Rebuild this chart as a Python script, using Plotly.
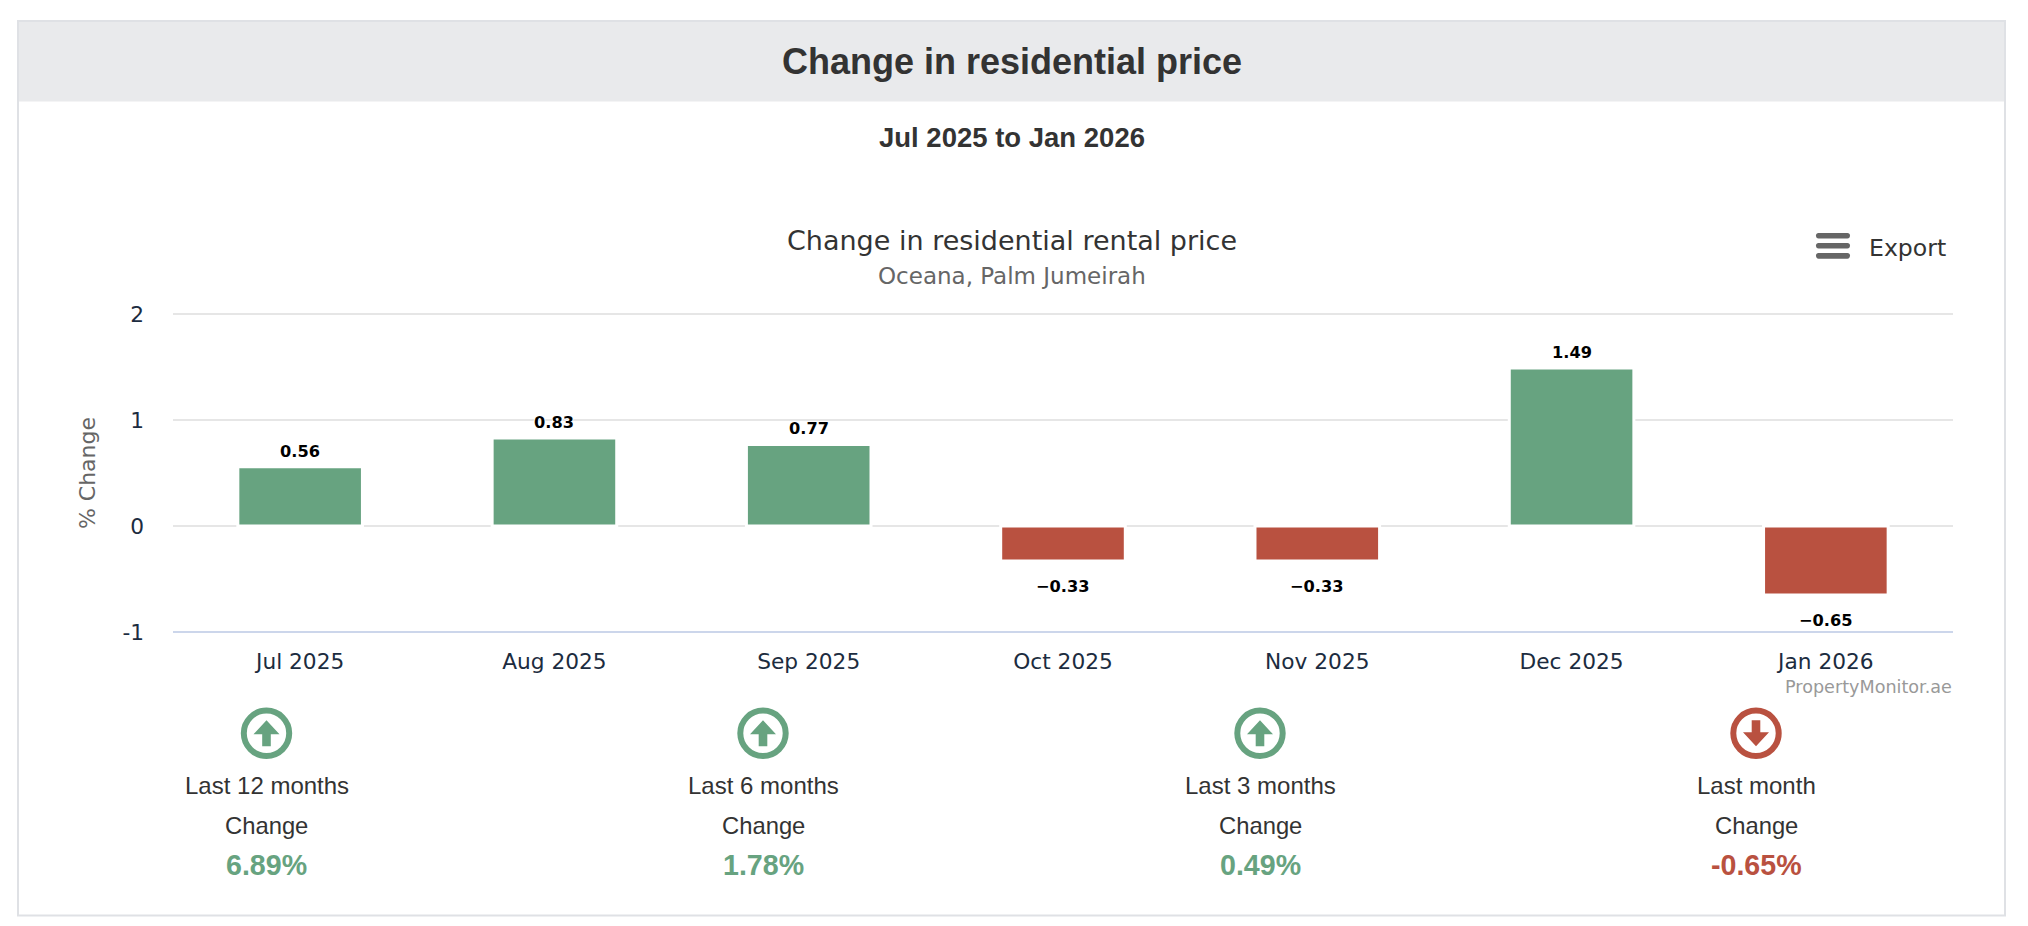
import plotly.graph_objects as go

months = ["Jul 2025", "Aug 2025", "Sep 2025", "Oct 2025", "Nov 2025", "Dec 2025", "Jan 2026"]
changes = [0.56, 0.83, 0.77, -0.33, -0.33, 1.49, -0.65]
periods = ["Last 12 months", "Last 6 months", "Last 3 months", "Last month"]
period_changes = [6.89, 1.78, 0.49, -0.65]
y_ticks = [-1, 0, 1, 2]
y_tick_text = ["-1", "0", "1", "2"]

GREEN = "#67a380"
RED = "#b95140"
W, H = 2028, 926
L, R, T, B = 173, 1953, 314, 632
MID = 1011.5
CHART_FONT = "DejaVu Sans"
HTML_FONT = "Liberation Sans"


def px(x):
    return (x - L) / (R - L)


def py(y):
    return (B - y) / (B - T)


def path(points):
    return "M" + " L".join(f"{px(x):.5f},{py(y):.5f}" for x, y in points) + " Z"


def rounded(x0, y0, x1, y1, r):
    p = lambda x, y: f"{px(x):.5f},{py(y):.5f}"
    return (f"M{p(x0 + r, y0)} L{p(x1 - r, y0)} Q{p(x1, y0)} {p(x1, y0 + r)} "
            f"Q{p(x1, y1)} {p(x1 - r, y1)} L{p(x0 + r, y1)} "
            f"Q{p(x0, y1)} {p(x0, y0 + r)} Q{p(x0, y0)} {p(x0 + r, y0)} Z")


def label(x, y, text, size, color, family=CHART_FONT, xanchor="center"):
    return dict(xref="paper", yref="paper", x=px(x), y=py(y), text=text, showarrow=False,
                xanchor=xanchor, yanchor="middle", borderpad=0,
                font=dict(family=family, size=size, color=color))


fig = go.Figure(go.Bar(
    x=months, y=changes,
    marker=dict(color=[GREEN if v >= 0 else RED for v in changes],
                line=dict(color="#ffffff", width=3)),
    width=0.49, hoverinfo="skip", showlegend=False,
))

shapes = [
    dict(type="rect", xref="paper", yref="paper", x0=px(18), x1=px(2005), y0=py(21), y1=py(915.5),
         line=dict(color="#dfe1e5", width=2), fillcolor="#ffffff", layer="below"),
    dict(type="rect", xref="paper", yref="paper", x0=px(19), x1=px(2004), y0=py(22), y1=py(101.5),
         line=dict(width=0), fillcolor="#e9eaec", layer="below"),
    dict(type="line", xref="paper", yref="paper", x0=0, x1=1, y0=1, y1=1,
         line=dict(color="#e6e6e6", width=2), layer="below"),
    dict(type="line", xref="paper", yref="paper", x0=0, x1=1, y0=0, y1=0,
         line=dict(color="#ccd6eb", width=2), layer="below"),
]
for (a, b) in [(233, 238.5), (243, 248.5), (253, 258.7)]:
    shapes.append(dict(type="path", xref="paper", yref="paper", path=rounded(1816, a, 1850, b, 2.6),
                       fillcolor="#666666", line=dict(width=0)))

annotations = [
    label(MID, 62, "<b>Change in residential price</b>", 36, "#333333", HTML_FONT),
    label(MID, 137, "<b>Jul 2025 to Jan 2026</b>", 27.5, "#333333", HTML_FONT),
    label(MID, 240.5, "Change in residential rental price", 27, "#333333"),
    label(MID, 276, "Oceana, Palm Jumeirah", 23, "#666666"),
    label(1868, 248, "Export", 23.6, "#333333", xanchor="left"),
    label(R, 687, "PropertyMonitor.ae", 17.6, "#999999", xanchor="right"),
]

OUTLINE = "1px 0 0 #fff, -1px 0 0 #fff, 0 1px 0 #fff, 0 -1px 0 #fff"
for m, v in zip(months, changes):
    annotations.append(dict(
        xref="x", yref="y", x=m, y=v, text="<b>" + f"{v:.2f}".replace("-", "\u2212") + "</b>",
        showarrow=False, yanchor="middle", yshift=15.5 if v >= 0 else -26,
        font=dict(family=CHART_FONT, size=16.2, color="#000000", shadow=OUTLINE),
    ))

centers = [266.5, 763, 1260, 1756]
for cx, name, val in zip(centers, periods, period_changes):
    col = GREEN if val >= 0 else RED
    cy = 733.3
    shapes.append(dict(type="circle", xref="paper", yref="paper",
                       x0=px(cx - 22.7), x1=px(cx + 22.7), y0=py(cy - 22.7), y1=py(cy + 22.7),
                       line=dict(color=col, width=6), fillcolor="rgba(0,0,0,0)"))
    s = 1 if val >= 0 else -1
    arrow = [(cx, cy - 13 * s), (cx + 13, cy + 1 * s), (cx + 4.3, cy + 1 * s), (cx + 4.3, cy + 13 * s),
             (cx - 4.3, cy + 13 * s), (cx - 4.3, cy + 1 * s), (cx - 13, cy + 1 * s)]
    shapes.append(dict(type="path", xref="paper", yref="paper", path=path(arrow),
                       fillcolor=col, line=dict(width=0)))
    annotations.append(label(cx, 785, name, 24, "#333333", HTML_FONT))
    annotations.append(label(cx, 825.5, "Change", 23.8, "#333333", HTML_FONT))
    annotations.append(label(cx, 865, f"<b>{val:.2f}%</b>", 28.6, col, HTML_FONT))

fig.update_layout(
    width=W, height=H, autosize=False,
    margin=dict(l=L, r=W - R, t=T, b=H - B, pad=0),
    paper_bgcolor="#ffffff", plot_bgcolor="rgba(0,0,0,0)",
    bargap=0.51, hovermode=False,
    shapes=shapes, annotations=annotations,
    xaxis=dict(type="category", showgrid=False, showline=False,
               ticks="", ticklabelstandoff=14,
               tickfont=dict(family=CHART_FONT, size=21.7, color="#1c2c40")),
    yaxis=dict(range=[-1, 2], tickvals=y_ticks, ticktext=y_tick_text,
               showgrid=True, gridcolor="#e6e6e6", gridwidth=2, zeroline=False, ticks="",
               ticklabelstandoff=28,
               tickfont=dict(family=CHART_FONT, size=21.7, color="#1c2c40"),
               title=dict(text="% Change", standoff=20,
                          font=dict(family=CHART_FONT, size=22, color="#666666"))),
)

fig.write_html("out.html", config=dict(displayModeBar=False, responsive=False),
               post_script="document.body.style.margin='0';document.body.style.overflow='hidden';")
